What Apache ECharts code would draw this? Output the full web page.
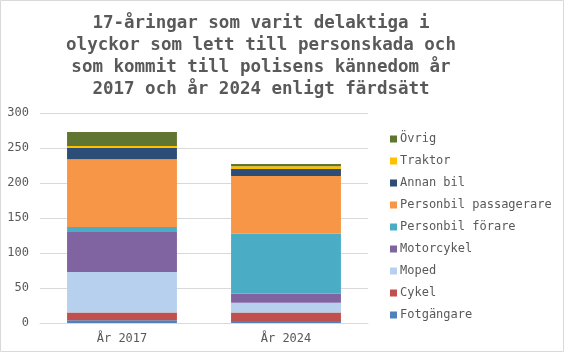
<!DOCTYPE html>
<html><head><meta charset="utf-8">
<script src="https://cdn.jsdelivr.net/npm/echarts@6/dist/echarts.min.js"></script>
<style>html,body{margin:0;padding:0;background:#fff}#c{width:564px;height:352px}</style>
</head><body><div id="c"></div>
<script>
const categories = ['År 2017', 'År 2024'];
const seriesNames = ['Fotgängare','Cykel','Moped','Motorcykel','Personbil förare','Personbil passagerare','Annan bil','Traktor','Övrig'];
const fotgangare = [4, 3];
const cykel = [11, 12];
const moped = [58, 14];
const motorcykel = [57, 13];
const personbilForare = [7, 86];
const personbilPassagerare = [97, 82];
const annanBil = [16, 10];
const traktor = [3, 4];
const ovrig = [20, 3];
const yTicks = [0, 50, 100, 150, 200, 250, 300];
const colors = ['#4f81bd','#c0504d','#b7d0ee','#8064a2','#4bacc6','#f79646','#2c4d75','#ffc000','#5f7530'];
const values = [fotgangare, cykel, moped, motorcykel, personbilForare, personbilPassagerare, annanBil, traktor, ovrig];

const font = 'DejaVu Sans Mono';
const chart = echarts.init(document.getElementById('c'));
chart.setOption({
  animation: false,
  textStyle: { fontFamily: font },
  title: {
    text: '17-åringar som varit delaktiga i\nolyckor som lett till personskada och\nsom kommit till polisens kännedom år\n2017 och år 2024 enligt färdsätt',
    left: 256, top: 7, textAlign: 'center',
    textStyle: { fontFamily: font, fontSize: 17.5, fontWeight: 'bold', color: '#595959', lineHeight: 22 }
  },
  graphic: [{ type: 'rect', shape: { x: 0.5, y: 0.5, width: 563, height: 351 }, style: { fill: 'none', stroke: '#d9d9d9', lineWidth: 1 }, silent: true }],
  legend: {
    orient: 'vertical', left: 385, top: 128,
    itemWidth: 7, itemHeight: 7, itemGap: 10, icon: 'rect',
    data: seriesNames.slice().reverse(),
    textStyle: { fontFamily: font, fontSize: 12, color: '#595959', lineHeight: 12, padding: [0,0,0,-2] }
  },
  grid: { left: 40, right: 196, top: 113, bottom: 29, containLabel: false },
  xAxis: {
    type: 'category', data: categories,
    axisLine: { lineStyle: { color: '#d9d9d9' } },
    axisTick: { show: false },
    axisLabel: { color: '#595959', fontSize: 12, fontFamily: font, margin: 10 }
  },
  yAxis: {
    type: 'value', min: yTicks[0], max: yTicks[yTicks.length-1], interval: 50,
    axisLine: { show: false }, axisTick: { show: false },
    splitLine: { lineStyle: { color: '#d9d9d9' } },
    axisLabel: { color: '#595959', fontSize: 12, fontFamily: font, margin: 11 }
  },
  series: seriesNames.map((n, i) => ({
    name: n, type: 'bar', stack: 'total', data: values[i],
    barCategoryGap: '33%',
    itemStyle: { color: colors[i] }
  }))
});
</script></body></html>
